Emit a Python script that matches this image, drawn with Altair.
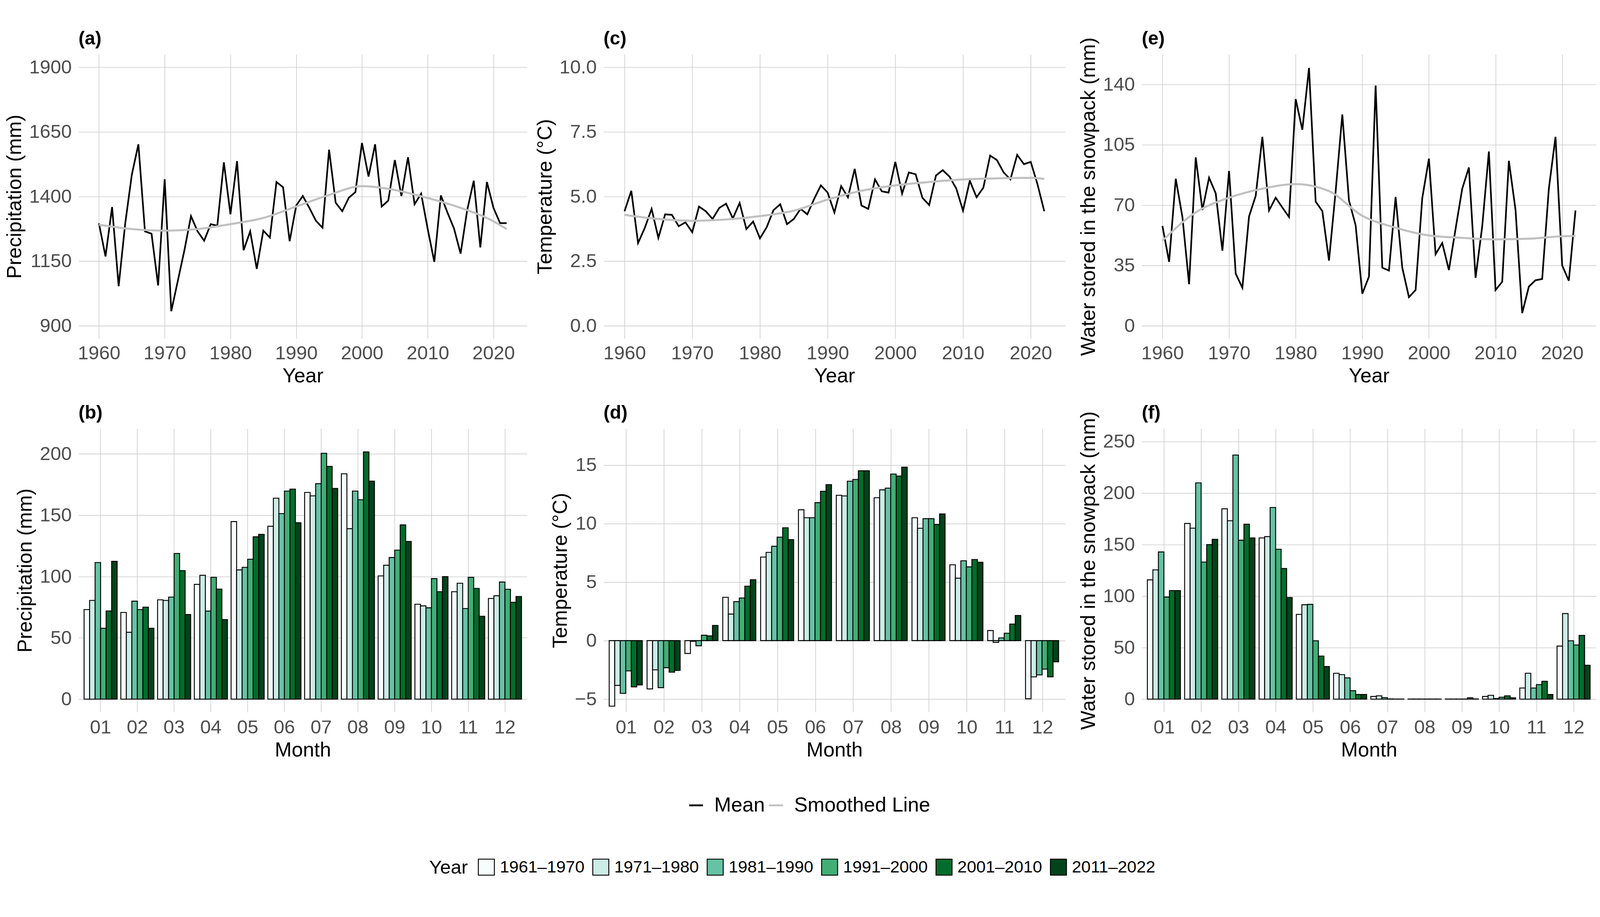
import altair as alt
import pandas as pd

FONT = "Liberation Sans"

# ---------------- data: annual series ----------------
years = list(range(1960, 2023))

precip_mean = [1296, 1168, 1359, 1053, 1296, 1484, 1602, 1265, 1256, 1056,
               1467, 956, 1074, 1192, 1324, 1265, 1229, 1293, 1287, 1532,
               1331, 1537, 1192, 1265, 1120, 1268, 1241, 1456, 1436, 1227,
               1365, 1402, 1356, 1306, 1279, 1581, 1376, 1343, 1395, 1417,
               1607, 1477, 1602, 1361, 1384, 1541, 1402, 1552, 1370, 1411,
               1274, 1147, 1404, 1338, 1276, 1179, 1347, 1461, 1203, 1456,
               1356, 1297, 1297]

temp_mean = [4.43, 5.22, 3.20, 3.79, 4.52, 3.40, 4.31, 4.29, 3.85, 4.00,
             3.62, 4.61, 4.43, 4.13, 4.56, 4.72, 4.15, 4.75, 3.74, 4.03,
             3.38, 3.81, 4.47, 4.70, 3.93, 4.13, 4.52, 4.31, 4.90, 5.43,
             5.15, 4.38, 5.40, 4.97, 6.07, 4.65, 4.52, 5.66, 5.20, 5.15,
             6.34, 5.11, 5.93, 5.86, 4.95, 4.67, 5.81, 6.02, 5.77, 5.31,
             4.45, 5.61, 4.97, 5.34, 6.58, 6.41, 5.93, 5.66, 6.61, 6.25,
             6.34, 5.47, 4.43]

swe_mean = [57.9, 37.1, 85.3, 63.1, 24.1, 97.7, 67.2, 85.9, 76.8, 43.5,
            89.8, 30.2, 22.0, 63.4, 75.4, 109.6, 66.9, 74.3, 68.6, 63.1,
            131.5, 113.7, 149.6, 72.0, 66.5, 37.8, 78.1, 122.6, 72.7, 58.3,
            18.6, 28.5, 139.4, 33.7, 32.0, 74.7, 33.7, 16.6, 20.7, 74.0,
            97.0, 41.5, 48.0, 32.3, 56.2, 79.5, 91.8, 27.8, 57.6, 101.1,
            20.7, 25.5, 95.7, 67.2, 7.3, 22.7, 26.4, 27.1, 79.5, 109.6,
            35.0, 26.1, 66.9]

# smoothed line
smooth_years = [1960, 1965, 1970, 1975, 1980, 1985, 1990, 1995, 2000, 2005, 2010, 2015, 2020, 2022]
precip_smooth = [1291, 1274, 1268, 1274, 1293, 1317, 1361, 1406, 1440, 1425, 1394, 1356, 1304, 1274]
temp_smooth = [4.29, 4.13, 4.06, 4.11, 4.24, 4.45, 4.88, 5.22, 5.43, 5.56, 5.66, 5.70, 5.72, 5.68]
swe_smooth = [49.4, 65.8, 74.3, 79.5, 82.2, 78.1, 63.8, 56.9, 52.4, 51.0, 50.1, 50.5, 51.9, 52.1]

year_ticks = [1960, 1970, 1980, 1990, 2000, 2010, 2020]

# ---------------- data: monthly decadal means ----------------
months = ["01", "02", "03", "04", "05", "06", "07", "08", "09", "10", "11", "12"]
decades = ["1961–1970", "1971–1980", "1981–1990", "1991–2000", "2001–2010", "2011–2022"]
decade_colors = ["#f7fcfd", "#ccece6", "#66c2a4", "#41ae76", "#006d2c", "#00441b"]

precip_bars = [
    [73.0, 80.5, 111.4, 57.8, 71.9, 112.4],
    [70.7, 54.5, 79.9, 73.0, 75.0, 57.8],
    [81.0, 80.5, 83.2, 118.8, 104.8, 69.0],
    [93.6, 101.0, 71.8, 99.4, 89.7, 64.9],
    [144.8, 105.4, 107.5, 114.1, 132.4, 134.4],
    [141.0, 163.9, 151.3, 169.7, 171.3, 143.9],
    [168.6, 165.8, 175.7, 200.5, 189.8, 171.8],
    [183.8, 139.0, 169.7, 162.6, 201.6, 177.8],
    [100.5, 109.2, 115.5, 121.5, 142.1, 128.6],
    [77.4, 76.1, 74.5, 98.3, 87.6, 99.9],
    [87.6, 94.5, 73.9, 99.4, 90.3, 67.6],
    [82.1, 84.3, 95.5, 89.6, 79.0, 83.7],
]

temp_bars = [
    [-5.60, -3.83, -4.51, -2.59, -3.96, -3.79],
    [-4.13, -2.50, -4.02, -2.32, -2.70, -2.55],
    [-1.10, -0.06, -0.44, 0.46, 0.40, 1.30],
    [3.70, 2.27, 3.33, 3.64, 4.65, 5.20],
    [7.14, 7.54, 8.06, 8.84, 9.64, 8.63],
    [11.18, 10.50, 10.50, 11.79, 12.76, 13.33],
    [12.42, 12.36, 13.62, 13.77, 14.51, 14.51],
    [12.21, 12.88, 13.03, 14.23, 14.06, 14.82],
    [10.50, 9.60, 10.42, 10.42, 9.92, 10.82],
    [6.48, 5.33, 6.82, 6.30, 6.93, 6.69],
    [0.86, -0.15, 0.23, 0.63, 1.41, 2.15],
    [-4.97, -3.10, -2.93, -2.44, -3.10, -1.81],
]

swe_bars = [
    [115.8, 125.5, 142.9, 99.1, 105.4, 105.4],
    [170.6, 166.0, 210.0, 133.1, 150.0, 155.2],
    [184.8, 173.2, 237.0, 154.3, 169.9, 156.5],
    [156.5, 157.8, 186.1, 145.5, 126.8, 98.7],
    [82.3, 91.6, 92.0, 56.7, 41.8, 31.6],
    [25.1, 23.8, 20.6, 8.2, 4.5, 4.5],
    [2.6, 3.2, 1.5, 0.2, 0.1, 0.1],
    [0.1, 0.1, 0.1, 0.1, 0.1, 0.1],
    [0.1, 0.1, 0.1, 0.1, 1.3, 0.2],
    [2.6, 3.7, 0.6, 1.9, 3.2, 1.3],
    [10.8, 25.1, 10.8, 14.1, 17.3, 4.5],
    [51.5, 83.1, 56.7, 52.6, 61.9, 32.9],
]

# ---------------- layout constants ----------------
TOP_H = 773
BOT_H = 770
COL_W = [1219, 1255, 1235]
PAD_L, PAD_T = 4, 0
# page position of the first panel's plot origin (legend coordinates are relative to it)
OX, OY = 212, 96

series_legend = alt.Legend(
    orient="none", legendX=1863 - OX, legendY=2110 - OY,
    direction="horizontal", title=None, labelFontSize=55, labelFont=FONT,
    labelColor="black", symbolType="stroke", symbolSize=1400, symbolStrokeWidth=5,
    labelOffset=22, columnPadding=0, labelLimit=1000,
)

decade_legend = alt.Legend(
    orient="none", legendX=1165 - OX, legendY=2282 - OY,
    direction="horizontal", title="Year", titleOrient="left", titleFontSize=52,
    titleFont=FONT, titleFontWeight="normal", titleColor="black", titlePadding=26,
    titleBaseline="middle", labelFontSize=46, labelFont=FONT, labelColor="black",
    symbolType="square", symbolSize=1900, symbolStrokeColor="black",
    symbolStrokeWidth=2.5, labelOffset=13, columnPadding=16, labelLimit=1000,
)


def tag_layer(label):
    # panel tag, drawn just above the top-left corner of the plot area
    return alt.Chart(alt.Data(values=[{"tag": label}])).mark_text(
        align="left", baseline="bottom", font=FONT, fontSize=51, fontWeight="bold",
        color="black",
    ).encode(text="tag:N", x=alt.value(0), y=alt.value(-16))


def y_axis(values, title, fmt=None):
    kw = dict(values=values, title=title, labelPadding=19, titlePadding=10)
    if fmt:
        kw["format"] = fmt
    return alt.Axis(**kw)


def line_panel(mean_vals, smooth_vals, ytitle, ydomain, yticks, yfmt, label, width):
    df_mean = pd.DataFrame({"Year": years, "value": mean_vals, "series": "Mean"})
    df_sm = pd.DataFrame({"Year": smooth_years, "value": smooth_vals, "series": "Smoothed Line"})
    x = alt.X("Year:Q", scale=alt.Scale(domain=[1956.9, 2025.1], nice=False, zero=False),
              axis=alt.Axis(values=year_ticks, format="d", title="Year",
                            labelPadding=15, titlePadding=9))
    y = alt.Y("value:Q", scale=alt.Scale(domain=ydomain, nice=False, zero=False),
              axis=y_axis(yticks, ytitle, yfmt))
    stroke = alt.Stroke("series:N",
                        scale=alt.Scale(domain=["Mean", "Smoothed Line"], range=["#000000", "#c0c0c0"]),
                        legend=series_legend)
    mean_line = alt.Chart(df_mean).mark_line(strokeWidth=4.5).encode(x=x, y=y, stroke=stroke)
    smooth_line = alt.Chart(df_sm).mark_line(strokeWidth=5.5, interpolate="monotone").encode(
        x=x, y=y, stroke=stroke)
    return alt.layer(mean_line, smooth_line, tag_layer(label)).properties(
        width=width, height=TOP_H)


def bar_panel(values, ytitle, ydomain, yticks, label, width):
    rows = []
    for m, vals in zip(months, values):
        for d, v in zip(decades, vals):
            rows.append({"Month": m, "decade": d, "value": v})
    df = pd.DataFrame(rows)
    bars = alt.Chart(df).mark_bar(stroke="black", strokeWidth=2.5).encode(
        x=alt.X("Month:N", sort=months,
                scale=alt.Scale(paddingInner=0.1, paddingOuter=0.15),
                axis=alt.Axis(title="Month", labelAngle=0, bandPosition=0.5,
                              labelPadding=17, titlePadding=9)),
        xOffset=alt.XOffset("decade:N", sort=decades,
                            scale=alt.Scale(domain=decades, paddingInner=0, paddingOuter=0)),
        y=alt.Y("value:Q", scale=alt.Scale(domain=ydomain, nice=False, zero=False),
                axis=y_axis(yticks, ytitle)),
        fill=alt.Fill("decade:N", scale=alt.Scale(domain=decades, range=decade_colors),
                      legend=decade_legend),
    )
    return alt.layer(bars, tag_layer(label)).properties(width=width, height=BOT_H)


SNOW = "Water stored in the snowpack (mm)"

pa = line_panel(precip_mean, precip_smooth, "Precipitation (mm)", [850, 1950],
                [900, 1150, 1400, 1650, 1900], "d", "(a)", COL_W[0])
pc = line_panel(temp_mean, temp_smooth, "Temperature (°C)", [-0.5, 10.5],
                [0, 2.5, 5, 7.5, 10], ".1f", "(c)", COL_W[1])
pe = line_panel(swe_mean, swe_smooth, SNOW, [-7.5, 157.5],
                [0, 35, 70, 105, 140], "d", "(e)", COL_W[2])

pb = bar_panel(precip_bars, "Precipitation (mm)", [-10.5, 220.5], [0, 50, 100, 150, 200],
               "(b)", COL_W[0])
pd_ = bar_panel(temp_bars, "Temperature (°C)", [-6.1, 18.1], [-5, 0, 5, 10, 15],
                "(d)", COL_W[1])
pf = bar_panel(swe_bars, SNOW, [-12.5, 262.5], [0, 50, 100, 150, 200, 250],
               "(f)", COL_W[2])

chart = alt.concat(
    pa, pc, pe, pb, pd_, pf, columns=3, bounds="flush",
    spacing={"row": 245, "column": 208},
).properties(
    padding={"left": PAD_L, "top": PAD_T, "right": 2, "bottom": 0},
    background="white",
).configure_axis(
    labelFont=FONT, labelFontSize=52, labelColor="#4d4d4d",
    titleFont=FONT, titleFontSize=55, titleColor="black", titleFontWeight="normal",
    grid=True, gridColor="#cccccc", gridWidth=1.7, domain=False, ticks=False,
).configure_view(
    stroke=None,
)

chart.save("out.html", embed_options={"renderer": "svg", "actions": False})
